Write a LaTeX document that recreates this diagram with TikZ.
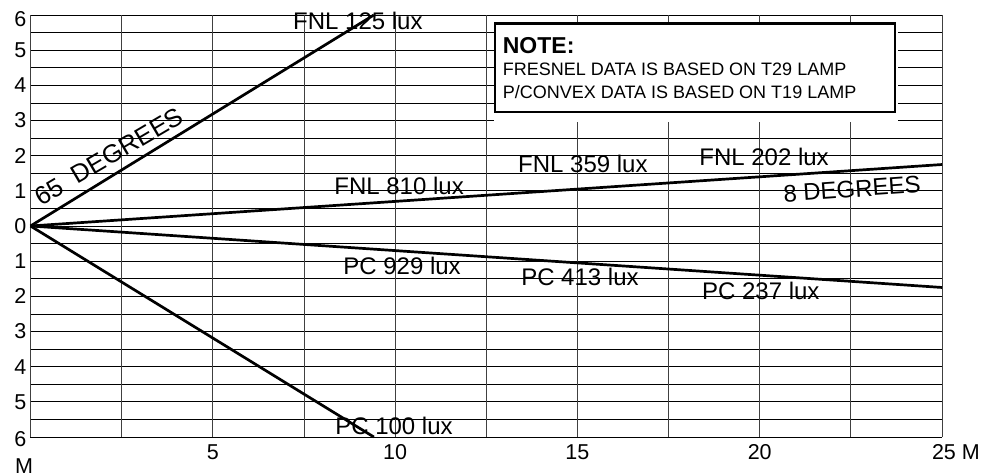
\documentclass[tikz,border=0pt]{standalone}
\usepackage{fontspec}
\setmainfont{Liberation Sans}
\usepackage{tikz}
\usetikzlibrary{positioning}

\begin{document}
\begin{tikzpicture}[x=36.46pt,y=35.17pt]

\tikzset{gridline/.style={line width=0.8pt},
  beam/.style={line width=2.7pt},
  axislabel/.style={inner sep=0pt,font=\fontsize{21.5}{24}\selectfont},
  luxlabel/.style={inner sep=0pt,font=\fontsize{24}{28}\selectfont},
  notetext/.style={inner sep=0pt,anchor=base west,font=\fontsize{18}{21}\selectfont}}

\useasboundingbox (-0.8365,-7.051) rectangle (26.673,6.426);

% grid
\foreach \y in {-6,-5.5,...,6} \draw[gridline] (0,\y) -- (25,\y);
\foreach \x in {0,2.5,...,25} \draw[gridline,black!75] (\x,-6) -- (\x,6);

% axis labels
\node[axislabel,anchor=east] (up6) at (-0.11,5.87) {6};
\foreach \v in {1,...,5} {
  \node[axislabel,anchor=east] (up\v) at (-0.11,\v) {\v};
  \node[axislabel,anchor=east] (dn\v) at (-0.11,-\v) {\v};
}
\node[axislabel,anchor=east] (zero) at (-0.11,0) {0};
\node[axislabel,anchor=east] (dn6) at (-0.11,-6.05) {6};
\node[axislabel,anchor=west] (unitv) at (-0.425,-6.82) {M};
\foreach \x in {5,10,15,20}
  \node[axislabel] (bot\x) at (\x,-6.43) {\x};
\node[axislabel,anchor=west] (bot25) at (24.72,-6.43) {25 M};

% note
\fill[white] (12.7,5.77) rectangle (23.79,2.97);
\draw[line width=2.2pt] (12.74,5.758) rectangle (23.71,3.25);
\node[notetext,font=\fontsize{23}{26}\bfseries] (notehead) at (12.95,4.911) {NOTE:};
\node[notetext] (fresnel) at (12.95,4.265) {FRESNEL DATA IS BASED ON T29 LAMP};
\node[notetext] (pconvex) at (12.95,3.63) {P/CONVEX DATA IS BASED ON T19 LAMP};

% beams
\coordinate (O) at (0,0);
\coordinate (fnlwide) at (9.418,6);
\coordinate (pcwide) at (9.418,-6);
\coordinate (fnlnarrow) at (25,1.748);
\coordinate (pcnarrow) at (25,-1.748);
\draw[beam] (O) -- (fnlwide);
\draw[beam] (O) -- (pcwide);
\draw[beam] (O) -- (fnlnarrow);
\draw[beam] (O) -- (pcnarrow);

\node[luxlabel] (fnl125) at (8.98,5.843) {FNL 125 lux};
\node[luxlabel] (fnl810) at (10.11,1.152) {FNL 810 lux};
\node[luxlabel] (fnl359) at (15.15,1.763) {FNL 359 lux};
\node[luxlabel] (fnl202) at (20.12,1.962) {FNL 202 lux};
\node[luxlabel] (pc929) at (10.19,-1.123) {PC 929 lux};
\node[luxlabel] (pc413) at (15.07,-1.45) {PC 413 lux};
\node[luxlabel] (pc237) at (20.03,-1.848) {PC 237 lux};
\node[luxlabel] (pc100) at (9.97,-5.687) {PC 100 lux};
\node[luxlabel,rotate=4] (narrow) at (22.53,1.052) {8 DEGREES};
\node[luxlabel,rotate=30.5,font=\fontsize{25.5}{28}\selectfont] (wide) at (2.15,1.98) {65\ \ DEGREES};

\end{tikzpicture}
\end{document}
